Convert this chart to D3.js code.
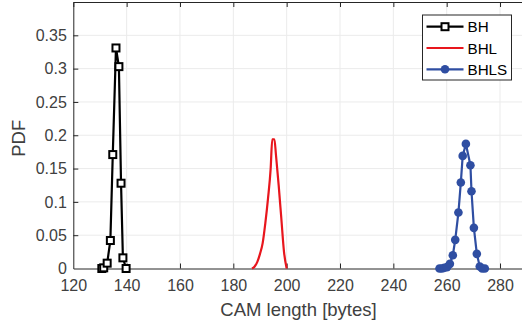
<!DOCTYPE html>
<html>
<head>
<meta charset="utf-8">
<script src="https://cdn.jsdelivr.net/npm/d3@7"></script>
<style>
  body { margin: 0; background: #fff; }
  svg { display: block; font-family: 'Liberation Sans', Arial, sans-serif; }
</style>
</head>
<body>
<svg id="chart" width="522" height="326"></svg>
<script>
// values
let xTicks = [120, 140, 160, 180, 200, 220, 240, 260, 280];
let yTicks = [0, 0.05, 0.1, 0.15, 0.2, 0.25, 0.3, 0.35];
let yTickLabels = ['0', '0.05', '0.1', '0.15', '0.2', '0.25', '0.3', '0.35'];

let bhX = [130.7, 131.4, 132.7, 133.9, 134.8, 136.0, 137.1, 137.9, 138.6, 139.8];
let bhY = [0, 0.001, 0.008, 0.042, 0.171, 0.331, 0.303, 0.128, 0.016, 0];

let bhlX = [187, 188, 189, 190, 191, 192, 193, 194, 194.6, 195.4, 196, 197, 198, 199, 200];
let bhlY = [0, 0.003, 0.01, 0.022, 0.038, 0.068, 0.105, 0.15, 0.194, 0.194, 0.17, 0.125, 0.075, 0.025, 0];

let bhlsX = [257.3, 258.2, 259.1, 260.1, 261.2, 262.3, 263.2, 264.4, 265.3, 266.0, 267.2, 268.9, 269.3, 270.2, 271.3, 272.4, 273.3, 274.3];
let bhlsY = [0, 0, 0.001, 0.002, 0.007, 0.02, 0.043, 0.084, 0.129, 0.169, 0.187, 0.155, 0.116, 0.061, 0.022, 0.003, 0, 0];

let seriesNames = ['BH', 'BHL', 'BHLS'];
let seriesColors = ['#000000', '#e8161d', '#2f4ea2'];

let margin = { left: 73.3, top: 2, right: -4.7, bottom: 57.5 };
let width = 522, height = 326;

let svg = d3.select('#chart');

let scaleX = d3.scaleLinear()
    .domain([120, 290])
    .range([margin.left, width - margin.right]);

let scaleY = d3.scaleLinear()
    .domain([0, 0.4])
    .range([height - margin.bottom, margin.top]);

let x0 = scaleX.range()[0], x1 = scaleX.range()[1];
let y0 = scaleY.range()[0], y1 = scaleY.range()[1];

// grid
let grid = svg.append('g');
grid.selectAll('line.gy')
    .data(yTicks.slice(1))
    .enter()
    .append('line')
    .attr('x1', x0).attr('x2', x1)
    .attr('y1', d => scaleY(d)).attr('y2', d => scaleY(d))
    .attr('stroke', '#ebebeb').attr('stroke-width', 1);
grid.selectAll('line.gx')
    .data(xTicks.slice(1))
    .enter()
    .append('line')
    .attr('y1', y0).attr('y2', y1)
    .attr('x1', d => scaleX(d)).attr('x2', d => scaleX(d))
    .attr('stroke', '#ebebeb').attr('stroke-width', 1);

// axes (ticks inside, box on)
let axisColor = '#262626';
let textColor = '#404040';

let xAxis = d3.axisBottom(scaleX)
    .tickValues(xTicks)
    .tickSizeInner(-5)
    .tickSizeOuter(0)
    .tickPadding(11.5);
let xAxisG = svg.append('g')
    .attr('transform', `translate(0, ${y0})`)
    .call(xAxis);

let xTop = d3.axisTop(scaleX)
    .tickValues(xTicks)
    .tickSizeInner(-5)
    .tickSizeOuter(0)
    .tickFormat('');
let xTopG = svg.append('g')
    .attr('transform', `translate(0, ${y1})`)
    .call(xTop);

let yAxis = d3.axisLeft(scaleY)
    .tickValues(yTicks)
    .tickSizeInner(-5)
    .tickSizeOuter(0)
    .tickPadding(6.5)
    .tickFormat((d, i) => yTickLabels[i]);
let yAxisG = svg.append('g')
    .attr('transform', `translate(${x0}, 0)`)
    .call(yAxis);

[xAxisG, xTopG, yAxisG].forEach(g => {
    g.select('.domain').attr('stroke', axisColor);
    g.selectAll('.tick line').attr('stroke', axisColor);
    g.selectAll('.tick text')
        .attr('fill', textColor)
        .style('font-size', '16px')
        .style('font-family', "'Liberation Sans', Arial, sans-serif");
});
xAxisG.selectAll('.tick line').filter(d => d === 120).remove();
yAxisG.selectAll('.tick line').filter(d => d === 0).remove();

// axis labels
svg.append('text')
    .attr('x', 298.5)
    .attr('y', 316)
    .attr('text-anchor', 'middle')
    .attr('fill', textColor)
    .style('font-size', '18.5px')
    .text('CAM length [bytes]');

svg.append('text')
    .attr('transform', `translate(25, ${(y0 + y1) / 2 + 3}) rotate(-90)`)
    .attr('text-anchor', 'middle')
    .attr('fill', textColor)
    .style('font-size', '18.5px')
    .text('PDF');

// series
let line = d3.line()
    .x(d => scaleX(d[0]))
    .y(d => scaleY(d[1]));

let bh = d3.zip(bhX, bhY);
let bhl = d3.zip(bhlX, bhlY);
let bhls = d3.zip(bhlsX, bhlsY);

let plot = svg.append('g');

plot.append('path')
    .datum(bhl)
    .attr('d', line.curve(d3.curveMonotoneX))
    .attr('fill', 'none')
    .attr('stroke', seriesColors[1])
    .attr('stroke-width', 2.2);
line.curve(d3.curveLinear);

plot.append('path')
    .datum(bhls)
    .attr('d', line)
    .attr('fill', 'none')
    .attr('stroke', seriesColors[2])
    .attr('stroke-width', 2.2);
plot.selectAll('circle.bhls')
    .data(bhls)
    .enter()
    .append('circle')
    .attr('cx', d => scaleX(d[0]))
    .attr('cy', d => scaleY(d[1]))
    .attr('r', 4.3)
    .attr('fill', seriesColors[2]);

plot.append('path')
    .datum(bh)
    .attr('d', line)
    .attr('fill', 'none')
    .attr('stroke', seriesColors[0])
    .attr('stroke-width', 2.2);
plot.selectAll('rect.bh')
    .data(bh)
    .enter()
    .append('rect')
    .attr('x', d => scaleX(d[0]) - 3.5)
    .attr('y', d => scaleY(d[1]) - 3.5)
    .attr('width', 7)
    .attr('height', 7)
    .attr('fill', '#fff')
    .attr('stroke', seriesColors[0])
    .attr('stroke-width', 2);

// legend
let legend = svg.append('g').attr('transform', 'translate(422.5, 15)');
legend.append('rect')
    .attr('width', 89)
    .attr('height', 65)
    .attr('fill', '#fff')
    .attr('stroke', '#262626')
    .attr('stroke-width', 1);

let rows = legend.selectAll('g.row')
    .data(seriesNames)
    .enter()
    .append('g')
    .attr('transform', (d, i) => `translate(0, ${11.7 + i * 21.3})`);
rows.append('line')
    .attr('x1', 4).attr('x2', 41)
    .attr('stroke', (d, i) => seriesColors[i])
    .attr('stroke-width', 2.2);
rows.filter((d, i) => i === 0)
    .append('rect')
    .attr('x', 19).attr('y', -3.5)
    .attr('width', 7).attr('height', 7)
    .attr('fill', '#fff')
    .attr('stroke', seriesColors[0])
    .attr('stroke-width', 2);
rows.filter((d, i) => i === 2)
    .append('circle')
    .attr('cx', 22.5)
    .attr('r', 4.3)
    .attr('fill', seriesColors[2]);
rows.append('text')
    .attr('x', 45)
    .attr('y', 5.5)
    .attr('fill', '#000')
    .style('font-size', '15.2px')
    .text(d => d);
</script>
</body>
</html>
